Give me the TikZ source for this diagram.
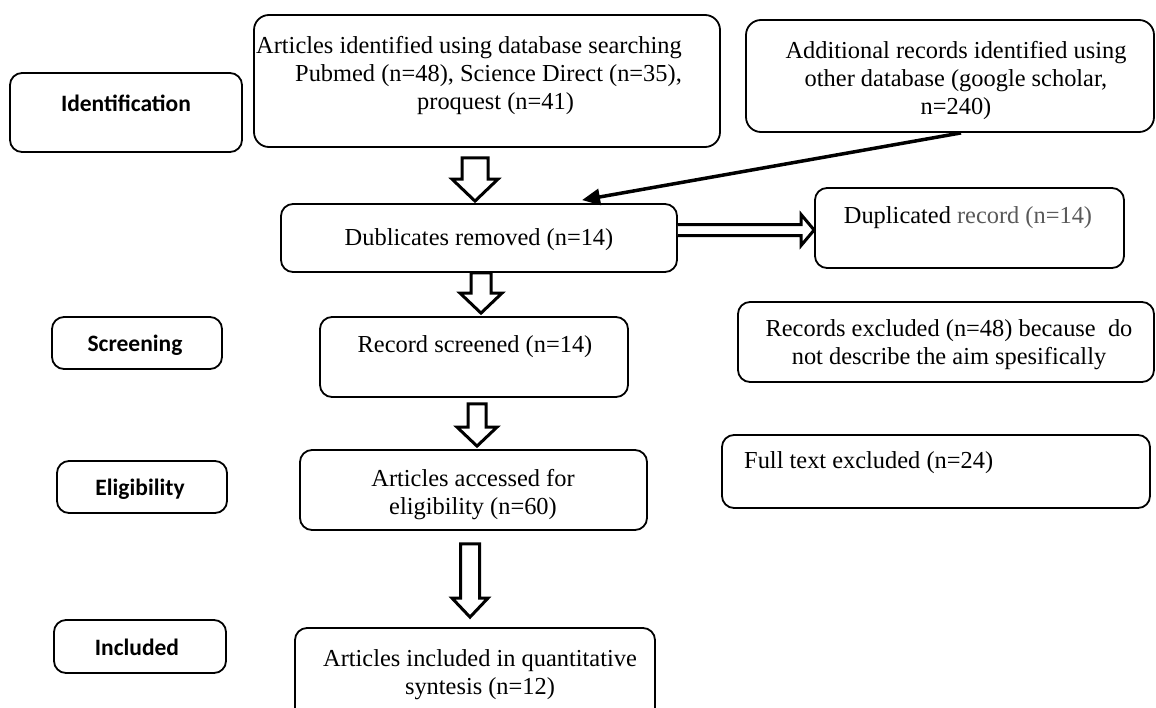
\documentclass[tikz,border=0pt]{standalone}
\usepackage{fontspec}
\setmainfont{Liberation Serif}
\newfontfamily\labfont{Carlito}
\usetikzlibrary{calc,fit,arrows.meta}
\newcommand\hollowdown[5]{%
  \draw[hollow] let \p1=#1, \p2=#2 in
    (\x1-#3,\y1) -- (\x1+#3,\y1) -- (\x1+#3,\y2+#5) -- (\x1+#4,\y2+#5) --
    (\x1,\y2) -- (\x1-#4,\y2+#5) -- (\x1-#3,\y2+#5) -- cycle;}
\newcommand\hollowright[5]{%
  \draw[hollow] let \p1=#1, \p2=#2 in
    (\x1,\y1+#3) -- (\x2-#5,\y1+#3) -- (\x2-#5,\y1+#4) -- (\x2,\y1) --
    (\x2-#5,\y1-#4) -- (\x2-#5,\y1-#3) -- (\x1,\y1-#3);}
\begin{document}
\begin{tikzpicture}[x=1pt,y=-1pt,
  box/.style={draw=black, line width=1.8pt, rounded corners=12pt, inner sep=0pt},
  txt/.style={inner sep=0pt, font=\fontsize{24.4}{28}\selectfont, align=center},
  lab/.style={inner sep=0pt, font=\labfont\bfseries\fontsize{23.5}{28}\selectfont},
  hollow/.style={draw=black, line width=3pt, fill=white, line join=miter},
  blackarrow/.style={line width=3.5pt, -{Triangle[length=18pt,width=16pt]}}]
\clip (0,0) rectangle (1156,707);
\fill[white] (0,0) rectangle (1156,707);

% stage labels
\node[box, fit={(10,73) (242,152)}] (lid) {};
\node[lab] (tlid) at (126,103) {Identification};
\node[box, fit={(52,317) (222,369)}] (lsc) {};
\node[lab] (tlsc) at (135,345) {Screening};
\node[box, fit={(57,461) (227,513)}] (lel) {};
\node[lab] (tlel) at (140,489) {Eligibility};
\node[box, fit={(54,620) (226,673)}] (lin) {};
\node[lab] (tlin) at (137,647) {Included};

% main boxes
\node[box, rounded corners=15pt, fit={(254,15) (720,147)}] (A) {};
\node[txt, align=left, anchor=west] (tA) at (256,75.5)
  {Articles identified using database searching\\
   \hspace*{39pt}Pubmed (n=48), Science Direct (n=35),\\
   \hspace*{161pt}proquest (n=41)};
\node[box, rounded corners=15pt, fit={(746,20) (1154,132)}] (B) {};
\node[txt] (tB) at (956,80.5)
  {Additional records identified using\\ other database (google scholar,\\ n=240)};
\node[box, fit={(281,204) (677,272)}] (D) {};
\node[txt] (tD) at (479,240) {Dublicates removed (n=14)};
\node[box, fit={(815,188) (1124,268)}] (Dup) {};
\node[txt] (tDup) at (968,218) {Duplicated \textcolor{black!65}{record (n=14)}};
\node[box, fit={(320,317) (628,397)}] (RS) {};
\node[txt] (tRS) at (475,347) {Record screened (n=14)};
\node[box, fit={(738,302) (1154,382)}] (RE) {};
\node[txt] (tRE) at (949,345) {Records excluded (n=48) because\ \ do\\ not describe the aim spesifically};
\node[box, fit={(300,450) (647,530)}] (AA) {};
\node[txt] (tAA) at (473,495) {Articles accessed for\\ eligibility (n=60)};
\node[box, fit={(722,435) (1150,508)}] (FT) {};
\node[txt, anchor=west] (tFT) at (744,463) {Full text excluded (n=24)};
\node[box, fit={(295,628) (655,730)}] (AI) {};
\node[txt] (tAI) at (480,675) {Articles included in quantitative\\ syntesis (n=12)};

% connectors
\hollowdown{($(A.south)+(-12,10)$)}{($(D.north)+(-4,-2)$)}{13pt}{23pt}{22pt}
\hollowdown{($(D.south)+(2,0)$)}{($(RS.north)+(7,-3)$)}{10pt}{21pt}{20pt}
\hollowdown{($(RS.south)+(3,6)$)}{($(AA.north)+(3.5,-3)$)}{9pt}{20pt}{19pt}
\hollowdown{($(AA.south)+(-3.5,13)$)}{($(AI.north)+(-5,-10)$)}{9.5pt}{18pt}{19pt}
\hollowright{($(D.east)+(0,-8)$)}{($(Dup.west)+(0,2)$)}{5.5pt}{15.5pt}{13pt}
\coordinate (bstart) at ($(B.south)+(11,0)$);
\draw[blackarrow] (bstart) -- ($(D.north)+(103,-3)$);
\end{tikzpicture}
\end{document}
